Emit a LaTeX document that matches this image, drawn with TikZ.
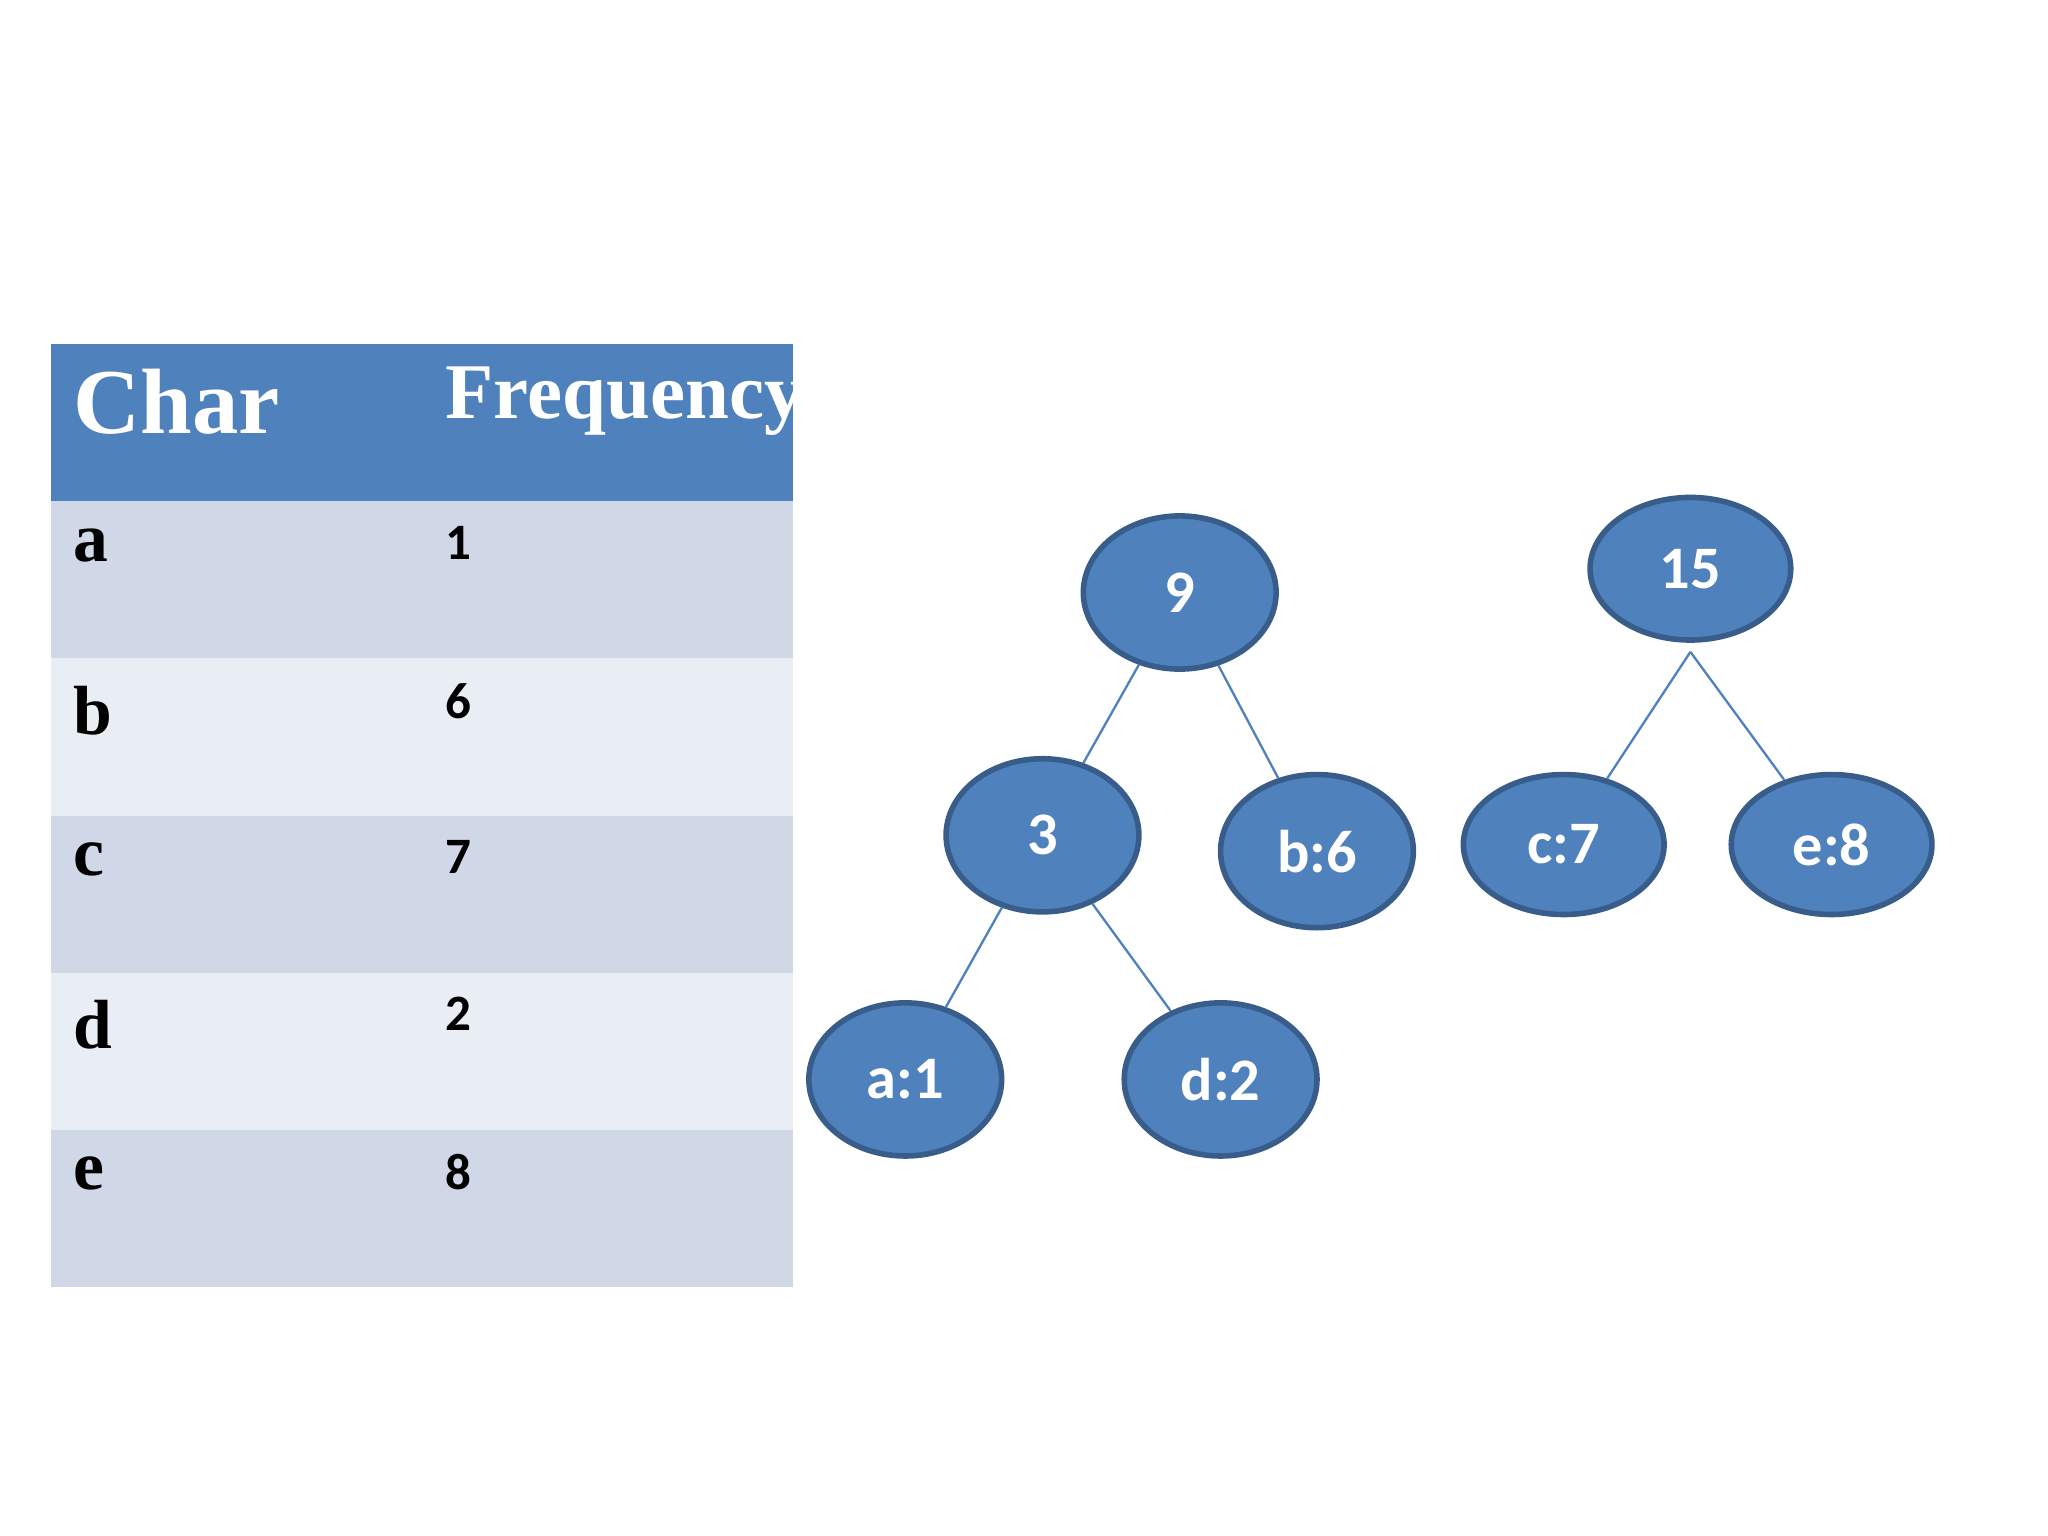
\documentclass[tikz,border=0pt]{standalone}
\usepackage{fontspec}
\setmainfont{Liberation Serif}
\newfontfamily\calib{Carlito}
\usetikzlibrary{shapes.geometric}
\definecolor{hdblue}{HTML}{4F81BD}
\definecolor{edblue}{HTML}{385D8A}
\definecolor{rowdark}{HTML}{D0D8E8}
\definecolor{rowlight}{HTML}{E9EDF4}
\tikzset{
  tnode/.style={ellipse, draw=edblue, line width=1.2pt, fill=hdblue, text=white,
    minimum width=1.46cm, minimum height=1.16cm, inner sep=0pt,
    font=\calib\bfseries\fontsize{13}{13}\selectfont},
  tedge/.style={draw=hdblue, line width=0.5pt},
  cell/.style={anchor=north west, inner sep=0pt, font=\bfseries\fontsize{15}{15}\selectfont},
  num/.style={anchor=north west, inner sep=0pt, font=\calib\bfseries\fontsize{11}{11}\selectfont}
}
\begin{document}
\begin{tikzpicture}[x=0.01cm, y=-0.01cm]
\useasboundingbox (0,0) rectangle (1552,1164);
% table
\fill[hdblue] (39,261) rectangle (601,380);
\foreach \i/\c in {0/rowdark,1/rowlight,2/rowdark,3/rowlight,4/rowdark}
  \fill[\c] (39,380+119*\i) rectangle (601,499+119*\i);
\node (hchar) [cell, text=white, font=\bfseries\fontsize{20}{20}\selectfont] at (55,279) {Char};
\node (hfreq) [cell, text=white, font=\bfseries\fontsize{17}{17}\selectfont] at (337,277) {Frequency};
\foreach \i/\ch/\f in {0/a/1,1/b/6,2/c/7,3/d/2,4/e/8} {
  \node (ch\ch) [cell] at (55,400+119*\i) {\ch};
  \node (fr\ch) [num] at (337,398+119*\i) {\f};
}
% trees
\node (n9)  [tnode] at (894,449) {9};
\node (n3)  [tnode] at (790,633) {3};
\node (b6)  [tnode] at (998,645) {b:6};
\node (a1)  [tnode] at (686,818) {a:1};
\node (d2)  [tnode] at (925,818) {d:2};
\node (n15) [tnode, minimum width=1.52cm, minimum height=1.08cm] at (1281,431) {15};
\node (c7)  [tnode, minimum width=1.52cm, minimum height=1.06cm] at (1185,640) {c:7};
\node (e8)  [tnode, minimum width=1.52cm, minimum height=1.06cm] at (1388,640) {e:8};
\coordinate (r15) at (1281,494);
\draw[tedge] (n9) -- (n3);
\draw[tedge] (n9) -- (b6);
\draw[tedge] (n3) -- (a1);
\draw[tedge] (n3) -- (d2);
\draw[tedge] (r15) -- (c7);
\draw[tedge] (r15) -- (e8);
\end{tikzpicture}
\end{document}
